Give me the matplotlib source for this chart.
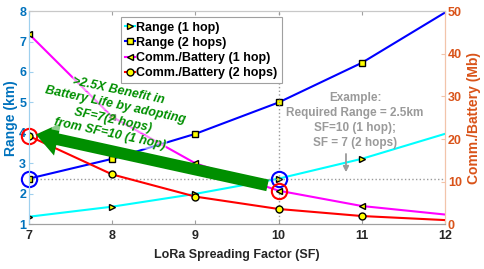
import matplotlib
matplotlib.use('Agg')
import matplotlib.pyplot as plt
import numpy as np

plt.rcParams['font.family'] = ['Liberation Sans', 'DejaVu Sans']
plt.rcParams['font.weight'] = 'bold'

sf = [7, 8, 9, 10, 11, 12]
range_1hop = [1.25, 1.58, 2.0, 2.5, 3.15, 3.97]
range_2hop = [2.5, 3.15, 3.97, 5.0, 6.3, 7.95]
comm_1hop = [44.6, 25.2, 14.3, 7.9, 4.3, 2.3]
comm_2hop = [20.7, 11.7, 6.5, 3.6, 1.95, 1.0]
note_lines = ['>2.5X Benefit in', 'Battery Life by adopting', 'SF=7(2 hops)', 'from SF=10 (1 hop)']

blue_ax = '#0072BD'
orange_ax = '#D95319'
green = '#008f00'
grey = '#9a9a9a'

fig = plt.figure(figsize=(4.85, 2.69), dpi=100)
ax = fig.add_axes([0.0598, 0.166, 0.8577, 0.793])
ax2 = ax.twinx()

mk = dict(markerfacecolor='yellow', markeredgecolor='black', markersize=5,
          markeredgewidth=1, markevery=[0, 1, 2, 3, 4], lw=1.5)
l1, = ax.plot(sf, range_1hop, color='cyan', marker='>', label='Range (1 hop)', **mk)
l2, = ax.plot(sf, range_2hop, color='blue', marker='s', label='Range (2 hops)',
              **dict(mk, markersize=4.5))
l3, = ax2.plot(sf, comm_1hop, color='magenta', marker='<', label='Comm./Battery (1 hop)', **mk)
l4, = ax2.plot(sf, comm_2hop, color='red', marker='o', label='Comm./Battery (2 hops)', **mk)

# reference guides
ax.axhline(2.5, color=grey, ls=':', lw=1)
ax.axvline(10, color=grey, ls=':', lw=1)

# highlight circles
ax.plot([7, 10], [2.5, 2.5], ls='none', marker='o', markersize=11,
        markerfacecolor='none', markeredgecolor='blue', markeredgewidth=1.5, clip_on=False)
ax2.plot([7, 10], [comm_2hop[0], comm_1hop[3]], ls='none', marker='o', markersize=11,
         markerfacecolor='none', markeredgecolor='red', markeredgewidth=1.5, clip_on=False)

ax.set_xlim(7, 12)
ax.set_ylim(1, 8)
ax2.set_ylim(0, 50)
ax.set_xticks(sf)
ax.set_yticks(range(1, 9))
ax2.set_yticks(range(0, 51, 10))

ax.tick_params(axis='x', direction='in', length=3, labelsize=9, colors='#262626',
               top=True, pad=4)
ax.tick_params(axis='y', direction='in', length=3, labelsize=9, colors=blue_ax, pad=2)
ax2.tick_params(axis='y', direction='in', length=3, labelsize=9, colors=orange_ax, pad=2)
for a in (ax, ax2):
    a.spines['top'].set_color('#c8c8c8')
    a.spines['bottom'].set_color('#a0a0a0')
    a.spines['left'].set_color('#9fd0ee')
    a.spines['right'].set_color('#f2c4aa')
ax.tick_params(axis='x', color='#a0a0a0')
ax.tick_params(axis='y', color='#9fd0ee')
ax2.tick_params(axis='y', color='#f2c4aa')

ax.set_xlabel('LoRa Spreading Factor (SF)', fontsize=9, fontweight='bold', color='#262626', labelpad=5)
ax.set_ylabel('Range (km)', fontsize=10, fontweight='bold', color=blue_ax, labelpad=1)
ax2.set_ylabel('Comm./Battery (Mb)', fontsize=10, fontweight='bold', color=orange_ax, labelpad=4)

leg = ax2.legend(handles=[l1, l2, l3, l4], loc='upper left', bbox_to_anchor=(0.205, 1.0),
                 fontsize=9, handlelength=0.8, handletextpad=0.1, labelspacing=0.25,
                 borderpad=0.35, fancybox=False, framealpha=1, edgecolor='#a0a0a0')
leg.get_frame().set_linewidth(0.8)
for t in leg.get_texts():
    t.set_fontweight('bold')

# green benefit arrow and note
ax2.annotate('', xy=(7.05, 21.2), xytext=(9.9, 9.0),
             arrowprops=dict(arrowstyle='simple,head_length=1.6,head_width=2.4,tail_width=0.85',
                             mutation_scale=10, color=green, lw=0), zorder=4)
rot = -12
step = 10.7  # points between lines, perpendicular to text direction
dx, dy = -np.sin(np.radians(-rot)) * step, -np.cos(np.radians(-rot)) * step
for k, line in enumerate(note_lines):
    ax2.annotate(line, xy=(8.08, 31.3), xytext=(dx * k, dy * k), textcoords='offset points',
                 color=green, fontsize=9, fontweight='bold', fontstyle='italic', rotation=rot,
                 rotation_mode='anchor', ha='center', va='center', zorder=5,
                 bbox=dict(facecolor='white', edgecolor='none', alpha=0.55, pad=0.8))

# example note
ax.text(10.92, 4.4, 'Example:\nRequired Range = 2.5km\nSF=10 (1 hop);\nSF = 7 (2 hops)',
        color=grey, fontsize=8.5, fontweight='bold', ha='center', va='center', linespacing=1.35)
ax.annotate('', xy=(10.81, 2.62), xytext=(10.81, 3.4),
            arrowprops=dict(arrowstyle='-|>', color=grey, lw=1.3, mutation_scale=8))

fig.savefig('out.png', dpi=100)
